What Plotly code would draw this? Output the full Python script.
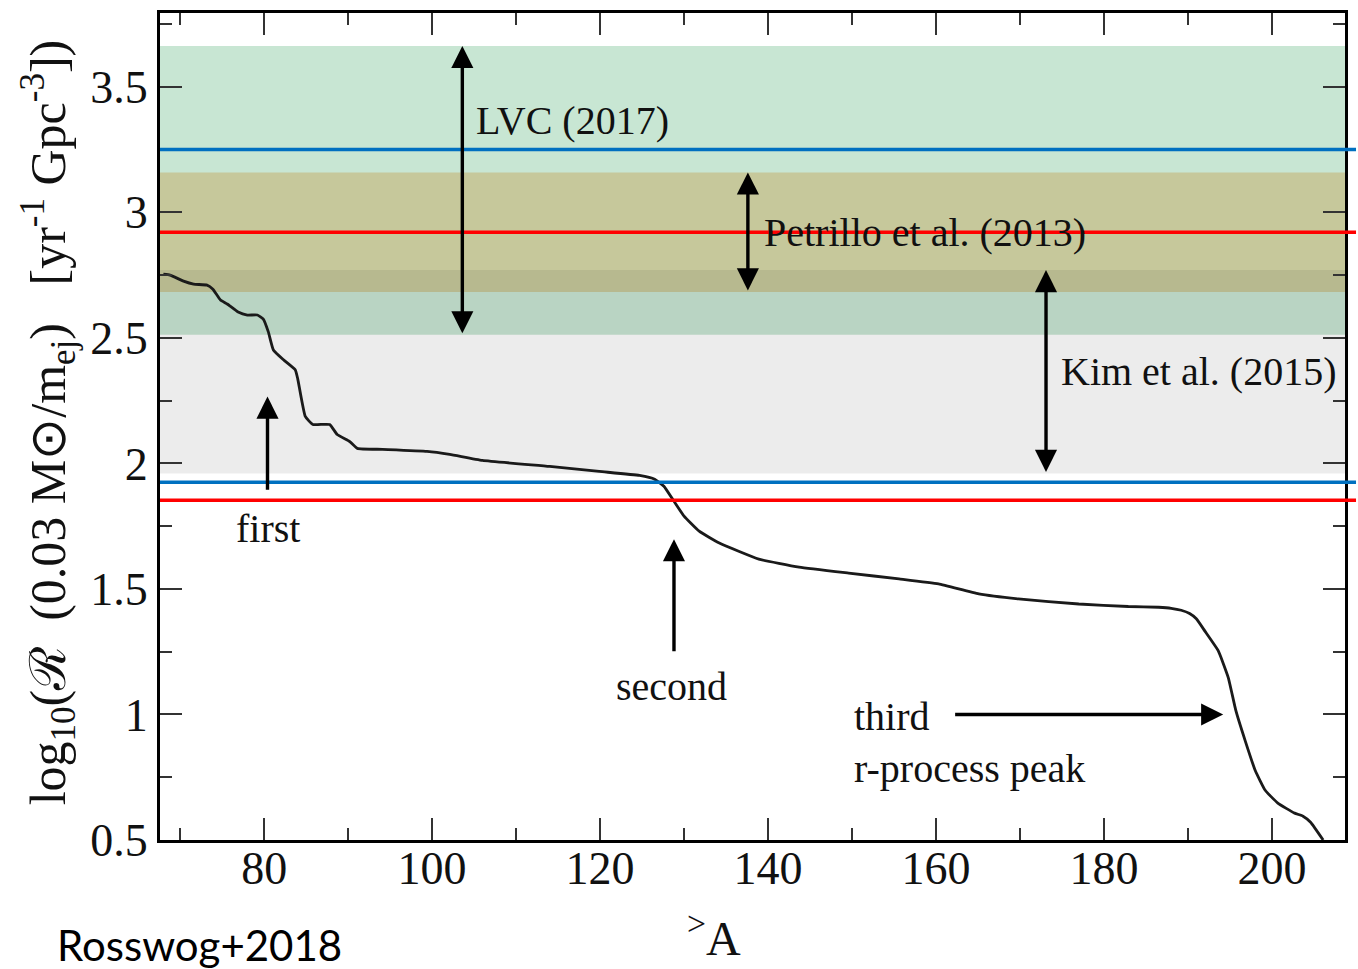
import plotly.graph_objects as go

# ---------------- data ----------------
curve_A = [68.0, 68.8, 70.4, 71.6, 73.2, 73.9, 74.8, 75.6, 76.9, 78.0, 79.2, 79.9, 80.5, 81.1,
           82.3, 83.7, 84.0, 84.9, 85.8, 87.8, 88.7, 90.2, 91.1, 94.1, 99.4, 102.1, 106.0,
           114.0, 119.9, 124.7, 126.5, 127.6, 128.8, 130.0, 131.8, 134.2, 138.9, 143.7,
           149.6, 155.6, 160.3, 165.1, 169.8, 177.0, 182.9, 186.5, 188.0, 189.2, 190.2, 191.0,
           192.0, 193.6, 194.8, 195.7, 196.8, 198.0, 199.2, 200.7, 202.7, 203.7, 204.6, 206.1]
curve_logR = [2.754, 2.750, 2.726, 2.714, 2.710, 2.694, 2.651, 2.635, 2.603, 2.591, 2.591, 2.575,
              2.524, 2.452, 2.413, 2.373, 2.337, 2.187, 2.155, 2.155, 2.115, 2.087, 2.060, 2.056,
              2.048, 2.036, 2.012, 1.988, 1.968, 1.952, 1.937, 1.909, 1.849, 1.790, 1.730, 1.683,
              1.619, 1.587, 1.563, 1.540, 1.520, 1.480, 1.460, 1.440, 1.430, 1.427, 1.423, 1.415,
              1.402, 1.381, 1.333, 1.254, 1.147, 1.016, 0.897, 0.778, 0.698, 0.647, 0.607, 0.595,
              0.571, 0.500]

band_names = ["LVC (2017)", "Petrillo et al. (2013)", "Kim et al. (2015)"]
band_low = [2.512, 2.683, 1.960]
band_high = [3.663, 3.159, 2.770]
band_colors = ["#c8e6d3", "#c6c89b", "rgba(0,0,0,0.075)"]
band_arrow_x = [103.6, 137.6, 173.1]
band_label_x = [105.0, 139.3, 174.6]
band_label_y = [3.365, 2.921, 2.365]

hline_y = [3.25, 1.925, 2.921, 1.853]
hline_colors = ["#0070c0", "#0070c0", "#ff0000", "#ff0000"]

peak_labels = ["first", "second"]
peak_x = [80.4, 128.8]
peak_tail_y = [1.889, 1.246]
peak_head_y = [2.266, 1.698]
peak_label_x = [80.5, 128.5]
peak_label_y = [1.742, 1.111]

third_labels = ["third", "r-process peak"]
third_label_x = [150.0, 150.0]
third_label_y = [0.992, 0.786]
third_arrow_y = 1.0
third_tail_x = 162.1
third_head_x = 194.2

x_range = [67.6, 208.7]
y_range = [0.5, 3.794]

SERIF = "Liberation Serif, Times New Roman, serif"

fig = go.Figure()
fig.add_trace(go.Scatter(x=curve_A, y=curve_logR, mode="lines",
                         line=dict(color="#1a1a1a", width=2.8, shape="spline", smoothing=0.4),
                         showlegend=False, hoverinfo="skip"))

shapes = []
for lo, hi, c in zip(band_low, band_high, band_colors):
    shapes.append(dict(type="rect", xref="paper", yref="y", x0=0, x1=1, y0=lo, y1=hi,
                       fillcolor=c, line=dict(width=0), layer="below"))
for yv, c in zip(hline_y, hline_colors):
    shapes.append(dict(type="line", xref="paper", yref="y", x0=0, x1=1.0093, y0=yv, y1=yv,
                       line=dict(color=c, width=3.5), layer="above"))

ann = []
arrow_style = dict(showarrow=True, arrowhead=2, arrowsize=1.3, arrowwidth=3.4,
                   arrowcolor="black", standoff=0, startstandoff=0, text="",
                   axref="x", ayref="y", xref="x", yref="y")
for xa, lo, hi in zip(band_arrow_x, band_low, band_high):
    ann.append(dict(x=xa, y=hi, ax=xa, ay=lo, arrowside="end+start", **arrow_style))
for name, lx, ly in zip(band_names, band_label_x, band_label_y):
    ann.append(dict(x=lx, y=ly, xref="x", yref="y", text=name, showarrow=False,
                    xanchor="left", yanchor="middle", font=dict(family=SERIF, size=40, color="#111")))
for xa, t, h in zip(peak_x, peak_tail_y, peak_head_y):
    ann.append(dict(x=xa, y=h, ax=xa, ay=t, **arrow_style))
for lab, lx, ly in zip(peak_labels, peak_label_x, peak_label_y):
    ann.append(dict(x=lx, y=ly, xref="x", yref="y", text=lab, showarrow=False,
                    xanchor="center", yanchor="middle", font=dict(family=SERIF, size=40, color="#111")))
ann.append(dict(x=third_head_x, y=third_arrow_y, ax=third_tail_x, ay=third_arrow_y, **arrow_style))
for lab, lx, ly in zip(third_labels, third_label_x, third_label_y):
    ann.append(dict(x=lx, y=ly, xref="x", yref="y", text=lab, showarrow=False,
                    xanchor="left", yanchor="middle", font=dict(family=SERIF, size=40, color="#111")))

# axis titles and credit
ann.append(dict(x=0, y=0.505, xref="paper", yref="paper", xshift=-112, textangle=-90,
                text="log<sub>10</sub>(ℛ  (0.03 M⊙/m<sub>ej</sub>)   [yr<sup>-1</sup> Gpc<sup>-3</sup>])",
                showarrow=False, xanchor="center", yanchor="middle",
                font=dict(family=SERIF, size=50, color="#111")))
ann.append(dict(x=0.4676, y=-0.1145, xref="paper", yref="paper",
                text="<sup>&gt;</sup>A", showarrow=False, xanchor="center", yanchor="middle",
                font=dict(family=SERIF, size=48, color="#111")))
ann.append(dict(x=-0.0885, y=-0.127, xref="paper", yref="paper", text="Rosswog+2018",
                showarrow=False, xanchor="left", yanchor="middle",
                font=dict(family="Lato, Carlito, sans-serif", size=42, color="black")))

axis_common = dict(showline=True, linewidth=3, linecolor="black", mirror="ticks",
                   ticks="inside", ticklen=22, tickwidth=1.5, tickcolor="#333",
                   showgrid=False, zeroline=False,
                   tickfont=dict(family=SERIF, size=46, color="#111"))

fig.update_layout(
    width=1358, height=969,
    margin=dict(l=160, r=11, t=10, b=129),
    paper_bgcolor="white", plot_bgcolor="white",
    shapes=shapes, annotations=ann,
    xaxis=dict(range=x_range, tick0=0, dtick=20, ticklabelstandoff=-14,
               minor=dict(dtick=10, ticks="inside", ticklen=12, tickcolor="#333", tickwidth=1.5),
               **axis_common),
    yaxis=dict(range=y_range, tick0=0, dtick=0.5,
               minor=dict(dtick=0.25, ticks="inside", ticklen=12, tickcolor="#333", tickwidth=1.5),
               **axis_common),
)

fig.write_html("out.html")
